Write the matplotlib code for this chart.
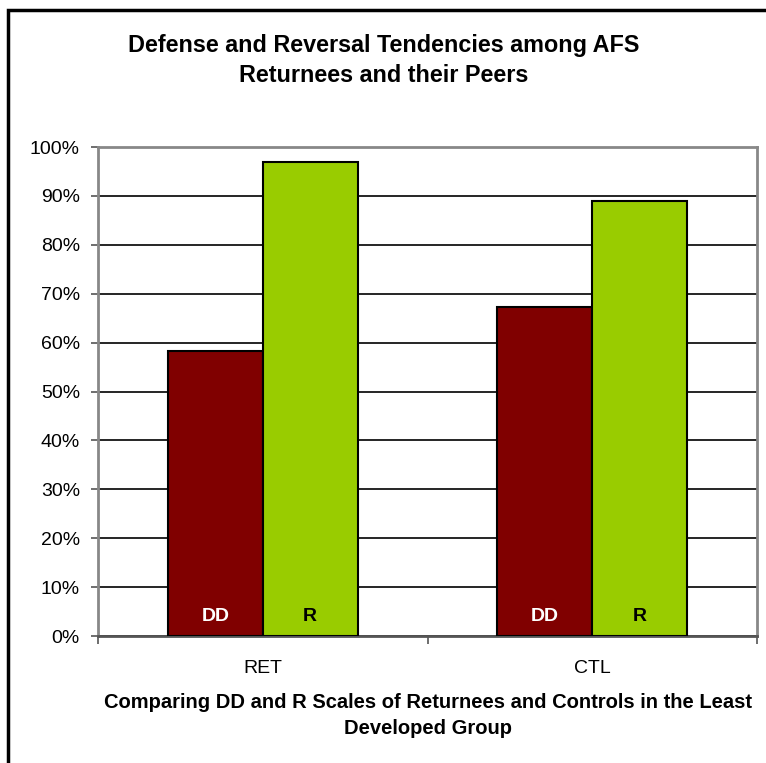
import numpy as np
import matplotlib.pyplot as plt
from matplotlib.patches import Rectangle

plt.rcParams['font.family'] = ['Liberation Sans', 'DejaVu Sans']

# Data
groups = ['RET', 'CTL']
dd_values = [58.3, 67.2]
r_values = [97.0, 89.0]
series_labels = ['DD', 'R']
y_ticks = [0, 10, 20, 30, 40, 50, 60, 70, 80, 90, 100]

dd_color = '#800000'
r_color = '#99cc00'

fig = plt.figure(figsize=(7.66, 7.63), dpi=100)
ax = fig.add_axes([0.1279, 0.1664, 0.8604, 0.6409])

x = np.arange(len(groups))
w = 0.288
ax.bar(x - w / 2, dd_values, w, color=dd_color, edgecolor='black', linewidth=1.5, zorder=3)
ax.bar(x + w / 2, r_values, w, color=r_color, edgecolor='black', linewidth=1.5, zorder=3)

# labels inside bar bottoms
for xi in x:
    ax.text(xi - w / 2, 4.0, series_labels[0], color='white', fontsize=14, fontweight='bold',
            ha='center', va='center', zorder=4)
    ax.text(xi + w / 2, 4.0, series_labels[1], color='black', fontsize=14, fontweight='bold',
            ha='center', va='center', zorder=4)

ax.set_xlim(-0.5, 1.5)
ax.set_ylim(0, 100)
ax.set_yticks(y_ticks)
ax.set_yticklabels([f'{t}%' for t in y_ticks], fontsize=14)
ax.yaxis.grid(True, color='black', linewidth=1.2, zorder=0)

# category ticks at boundaries, labels at centres
ax.set_xticks([-0.5, 0.5, 1.5])
ax.set_xticklabels([])
ax.set_xticks(x, minor=True)
ax.set_xticklabels(groups, minor=True, fontsize=14)
ax.tick_params(axis='x', which='minor', length=0, pad=17)
ax.tick_params(axis='x', which='major', length=6, color='#555555', width=1.2)
ax.tick_params(axis='y', length=5, color='#555555', width=1.2, pad=8)

for s in ['top', 'right', 'left']:
    ax.spines[s].set_color('#888888')
    ax.spines[s].set_linewidth(2)
ax.spines['bottom'].set_color('#555555')
ax.spines['bottom'].set_linewidth(2)

ax.set_xlabel('Comparing DD and R Scales of Returnees and Controls in the Least\nDeveloped Group',
              fontsize=14.5, fontweight='bold', labelpad=12, linespacing=1.45)

fig.text(0.5013, 0.921, 'Defense and Reversal Tendencies among AFS\nReturnees and their Peers',
         ha='center', va='center', fontsize=16.8, fontweight='bold', linespacing=1.4)

# outer chart border (right and bottom run off the picture)
fig.patches.append(Rectangle((8 / 766, -0.05), 1.1, 0.05 + 1 - 10 / 763, transform=fig.transFigure,
                             fill=False, edgecolor='black', linewidth=2.5))

fig.savefig('out.png', dpi=100)
